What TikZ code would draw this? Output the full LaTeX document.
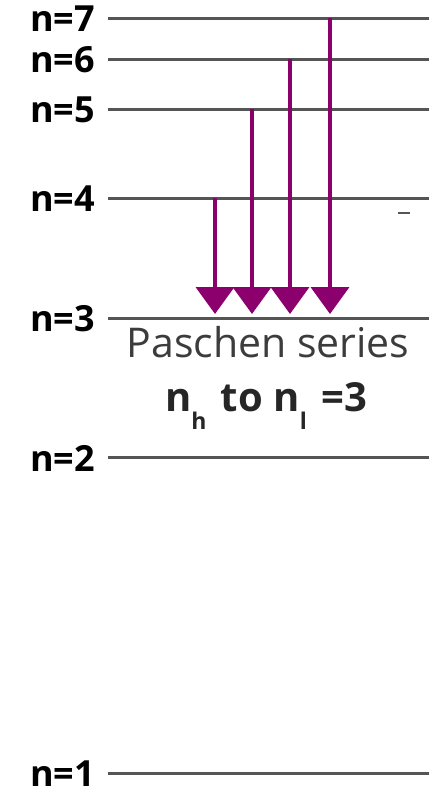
\documentclass[tikz,border=0pt]{standalone}
\usepackage{fontspec}
\setmainfont{Open Sans}
\usetikzlibrary{arrows.meta}
\definecolor{arrpurple}{RGB}{140,0,110}
\definecolor{levgray}{RGB}{85,85,85}
\definecolor{txtgray}{RGB}{60,60,60}
\tikzset{
  level/.style={draw=levgray, line width=3pt},
  lab/.style={anchor=east, inner sep=0pt, font=\fontsize{36}{36}\selectfont\bfseries, text=black},
  transition/.style={draw=arrpurple, line width=4pt, -{Triangle[width=38pt,length=27pt]}},
}
\newcommand{\subtxt}[1]{\raisebox{-18pt}{\fontsize{23}{23}\selectfont #1}}
\begin{document}
\begin{tikzpicture}[x=1pt,y=-1pt]
\useasboundingbox (0,0) rectangle (429,793);
% level lines
\foreach \n/\y in {7/18,6/59,5/109,4/198,3/318,2/457,1/773}{
  \coordinate (L\n a) at (108,\y);
  \coordinate (L\n b) at (429,\y);
  \draw[level] (L\n a) -- (L\n b);
  \node[lab] (lab\n) at (95,\y+1) {n=\n};
}
% arrow endpoints
\coordinate (t4) at (215,198);
\coordinate (t5) at (252,109);
\coordinate (t6) at (290,59);
\coordinate (t7) at (330,18);
\coordinate (e4) at (215,314);
\coordinate (e5) at (252,314);
\coordinate (e6) at (290,314);
\coordinate (e7) at (330,314);
\draw[transition] (t4) -- (e4);
\draw[transition] (t5) -- (e5);
\draw[transition] (t6) -- (e6);
\draw[transition] (t7) -- (e7);
% small dash
\coordinate (d1) at (398,213);
\coordinate (d2) at (410,213);
\draw[levgray, line width=2pt] (d1) -- (d2);
% texts
\node[anchor=base, inner sep=0pt, text=txtgray, font=\fontsize{41}{41}\selectfont] (ser) at (268,357) {Paschen series};
\node[anchor=base, inner sep=0pt, text=black!85, font=\fontsize{40}{40}\selectfont\bfseries] (rule) at (266,411) {n\subtxt{h}\hspace{4pt} to n\subtxt{l}\hspace{4pt} =3};
\end{tikzpicture}
\end{document}
